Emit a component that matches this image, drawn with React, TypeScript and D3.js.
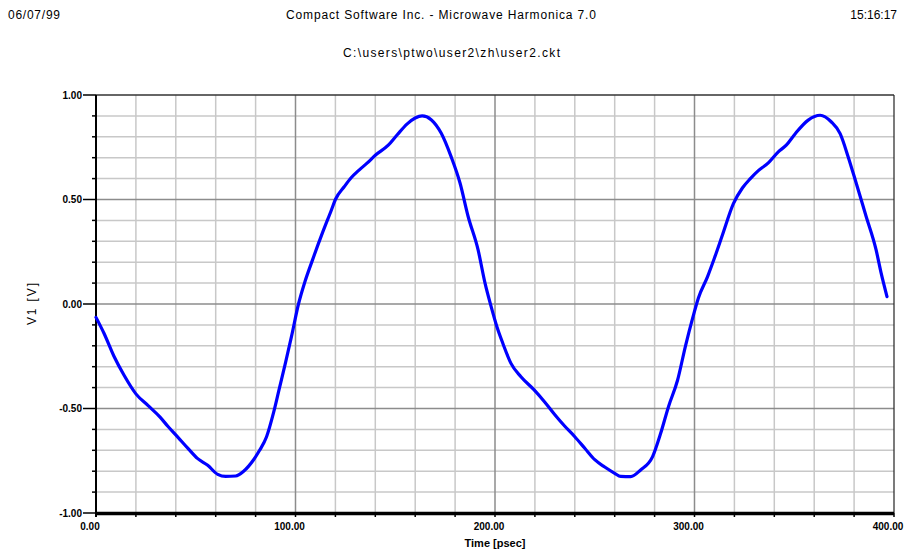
import React from "react";
import * as d3 from "d3";

const timePs: number[] = [
  0, 4, 9, 14, 20, 26, 32, 36, 41, 46, 51, 56, 61, 65, 70, 74, 79, 82, 85.5, 89,
  92, 95, 98, 101.5, 104.5, 108.5, 113.5, 118, 120, 124.5, 128, 132, 136, 140,
  146.5, 151, 156, 160, 163.5, 168, 173, 178, 182.5, 186.5, 191.5, 195, 198, 201,
  204, 208, 213, 219.5, 225, 230, 235, 240, 245, 250, 255, 260, 263, 268, 273, 279,
  283, 287, 291.5, 295.5, 299, 302, 306.5, 310, 314, 319.5, 324, 328, 332, 337, 342,
  346, 350.5, 357, 363, 368.5, 373, 377, 381, 386, 391, 393.5, 396.5,
];
const v1: number[] = [
  -0.064, -0.14, -0.25, -0.34, -0.43, -0.485, -0.54, -0.585, -0.637, -0.69, -0.74,
  -0.772, -0.815, -0.825, -0.823, -0.8, -0.745, -0.7, -0.635, -0.52, -0.4, -0.28,
  -0.155, 0.0, 0.1, 0.21, 0.34, 0.45, 0.5, 0.562, 0.605, 0.642, 0.675,
  0.712, 0.76, 0.81, 0.862, 0.89, 0.9, 0.882, 0.818, 0.705, 0.578, 0.42, 0.26,
  0.1, -0.01, -0.11, -0.19, -0.284, -0.348, -0.41, -0.47, -0.53, -0.585, -0.635,
  -0.69, -0.745, -0.78, -0.81, -0.825, -0.826, -0.794, -0.73, -0.62, -0.49, -0.365,
  -0.2, -0.07, 0.03, 0.13, 0.22, 0.33, 0.48, 0.555, 0.6, 0.638, 0.675, 0.728,
  0.76, 0.815, 0.88, 0.903, 0.872, 0.815, 0.705, 0.58, 0.42, 0.26, 0.15, 0.035,
];

const xMajorTicks: number[] = [0, 100, 200, 300, 400];
const xTickLabels: string[] = ["0.00", "100.00", "200.00", "300.00", "400.00"];
const yMajorTicks: number[] = [-1, -0.5, 0, 0.5, 1];
const yTickLabels: string[] = ["-1.00", "-0.50", "0.00", "0.50", "1.00"];

const headerDate = "06/07/99";
const headerTitle = "Compact Software Inc. - Microwave Harmonica 7.0";
const headerTime = "15:16:17";
const subTitle = "C:\\users\\ptwo\\user2\\zh\\user2.ckt";
const xLabel = "Time [psec]";
const yLabel = "V1 [V]";

export default function App() {
  const W = 906;
  const H = 553;
  const x = d3.scaleLinear().domain([0, 400]).range([96, 894]);
  const y = d3.scaleLinear().domain([-1, 1]).range([513, 95]);

  const xMinor = d3.range(0, 401, 20);
  const yMinor = d3.range(-10, 11).map((k) => k / 10);

  const isMajorY = (v: number) => Math.abs(v * 2 - Math.round(v * 2)) < 1e-6;
  const isMajorX = (v: number) => v % 100 === 0;

  const pts = timePs.map((t, i) => [t, v1[i]] as [number, number]);
  const line = d3
    .line<[number, number]>()
    .x((d) => x(d[0]))
    .y((d) => y(d[1]))
    .curve(d3.curveMonotoneX);

  const font = "'Liberation Sans', Arial, sans-serif";

  return (
    <svg
      width={W}
      height={H}
      style={{ position: "absolute", left: 0, top: 0, background: "#fff" }}
      fontFamily={font}
    >
      <rect x={0} y={0} width={W} height={H} fill="#fff" />
      {/* header */}
      <text x={8} y={19} fontSize={12} fill="#000" textLength={52}>
        {headerDate}
      </text>
      <text x={286} y={19} fontSize={12} fill="#000" textLength={310}>
        {headerTitle}
      </text>
      <text x={897} y={19} fontSize={12} fill="#000" textAnchor="end">
        {headerTime}
      </text>
      <text x={343} y={57} fontSize={12} fill="#000" textLength={217}>
        {subTitle}
      </text>

      {/* minor grid */}
      {xMinor
        .filter((v) => !isMajorX(v))
        .map((v) => (
          <line key={"xm" + v} x1={x(v)} x2={x(v)} y1={y(1)} y2={y(-1)} stroke="#c8c8c8" strokeWidth={1.5} />
        ))}
      {yMinor
        .filter((v) => !isMajorY(v))
        .map((v) => (
          <line key={"ym" + v} x1={x(0)} x2={x(400)} y1={y(v)} y2={y(v)} stroke="#c8c8c8" strokeWidth={1.5} />
        ))}
      {/* major grid */}
      {xMajorTicks.slice(1, -1).map((v) => (
        <line key={"xM" + v} x1={x(v)} x2={x(v)} y1={y(1)} y2={y(-1)} stroke="#8c8c8c" strokeWidth={1.5} />
      ))}
      {yMajorTicks.slice(1, -1).map((v) => (
        <line key={"yM" + v} x1={x(0)} x2={x(400)} y1={y(v)} y2={y(v)} stroke="#8c8c8c" strokeWidth={1.5} />
      ))}

      {/* frame */}
      <line x1={x(0)} x2={x(400)} y1={y(1)} y2={y(1)} stroke="#333" strokeWidth={1.5} />
      <line x1={x(400)} x2={x(400)} y1={y(1)} y2={y(-1)} stroke="#222" strokeWidth={1.2} />
      <line x1={x(0)} x2={x(0)} y1={y(1)} y2={y(-1) + 4} stroke="#000" strokeWidth={2} />
      <line x1={x(0) - 1} x2={x(400)} y1={y(-1) + 0.5} y2={y(-1) + 0.5} stroke="#000" strokeWidth={3.5} />

      {/* y ticks */}
      {yMinor.map((v) => (
        <line
          key={"yt" + v}
          x1={isMajorY(v) ? x(0) - 13 : x(0) - 4}
          x2={x(0)}
          y1={y(v)}
          y2={y(v)}
          stroke="#000"
          strokeWidth={1.5}
        />
      ))}
      {/* x ticks */}
      {xMinor.map((v) => (
        <line key={"xt" + v} x1={x(v)} x2={x(v)} y1={y(-1)} y2={y(-1) + 4} stroke="#000" strokeWidth={1.5} />
      ))}

      {/* tick labels */}
      {yMajorTicks.map((v, i) => (
        <text
          key={"yl" + v}
          x={x(0) - 14}
          y={y(v)}
          dy="0.35em"
          fontSize={10}
          fontWeight="bold"
          textAnchor="end"
          fill="#000"
        >
          {yTickLabels[i]}
        </text>
      ))}
      {xMajorTicks.map((v, i) => (
        <text
          key={"xl" + v}
          x={x(v) - 6}
          y={529.5}
          fontSize={10}
          fontWeight="bold"
          textAnchor="middle"
          fill="#000"
        >
          {xTickLabels[i]}
        </text>
      ))}

      {/* axis titles */}
      <text x={495} y={547} fontSize={11} fontWeight="bold" textAnchor="middle" fill="#000">
        {xLabel}
      </text>
      <text
        transform={`translate(36,304) rotate(-90)`}
        fontSize={12}
        textAnchor="middle"
        fill="#000"
        textLength={42}
      >
        {yLabel}
      </text>

      {/* data */}
      <path d={line(pts) || ""} fill="none" stroke="#0000ff" strokeWidth={3.2} strokeLinejoin="round" strokeLinecap="round" />
    </svg>
  );
}
